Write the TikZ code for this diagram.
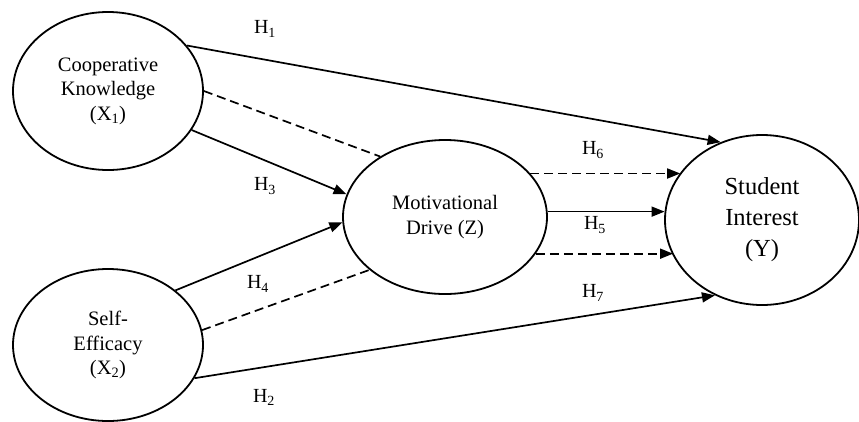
\documentclass[tikz,border=0pt]{standalone}
\usepackage{fontspec}
\setmainfont{Liberation Serif}
\usetikzlibrary{shapes.geometric,arrows.meta}
\begin{document}
\begin{tikzpicture}[x=1pt,y=-1pt,
  var/.style={draw,ellipse,line width=1.8pt,inner sep=0pt,align=center,font=\fontsize{20.5}{24.5}\selectfont},
  lab/.style={font=\fontsize{20}{22}\selectfont,inner sep=0pt},
  path/.style={line width=1.7pt,-{Triangle[length=13pt,width=10pt]}},
  dpath/.style={line width=1.7pt,dash pattern=on 9pt off 5pt,-{Triangle[length=13pt,width=10pt]}},
  dline/.style={line width=1.7pt,dash pattern=on 9pt off 5pt}]
\useasboundingbox (0,0) rectangle (859,421);
\node[var,minimum width=190pt,minimum height=158pt] (x1) at (108,91) {Cooperative\\Knowledge\\(X\textsubscript{1})};
\node[var,minimum width=190pt,minimum height=152pt] (x2) at (108,345) {Self-\\Efficacy\\(X\textsubscript{2})};
\node[var,minimum width=204pt,minimum height=154pt] (z) at (445,217) {Motivational\\Drive (Z)};
\node[var,minimum width=194pt,minimum height=170pt,font=\fontsize{24.5}{31}\selectfont] (y) at (762,220) {Student\\Interest\\(Y)};
% labels
\node[lab] (h1) at (265,29) {H\textsubscript{1}};
\node[lab] (h3) at (265,186) {H\textsubscript{3}};
\node[lab] (h6) at (593,150) {H\textsubscript{6}};
\node[lab] (h5) at (595,225) {H\textsubscript{5}};
\node[lab] (h4) at (258,284) {H\textsubscript{4}};
\node[lab] (h7) at (593,293) {H\textsubscript{7}};
\node[lab] (h2) at (264,397) {H\textsubscript{2}};
% connectors
\draw[path] (x1.30) -- (y.118);
\draw[dline] (x1.0) -- (z.137);
\draw[path] (x1.-25) -- (z.167);
\draw[path] (x2.39) -- (z.183);
\draw[dline] (x2.9) -- (z.215);
\draw[path] (x2.-21) -- (y.238);
\draw[dpath] (z.27) -- (y.150 |- z.27);
\draw[path] (z.3) -- (y.175 |- z.3);
\draw[dpath] (z.-22) -- (y.202 |- z.-22);
\end{tikzpicture}
\end{document}
